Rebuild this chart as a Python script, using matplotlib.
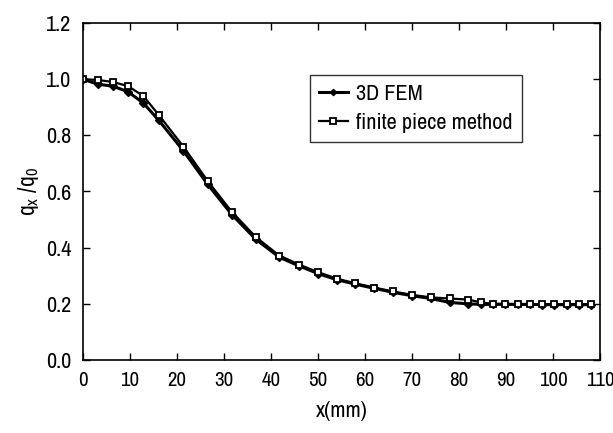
import matplotlib
matplotlib.use("Agg")
import matplotlib.pyplot as plt
from matplotlib import font_manager

# x positions (mm)
x_pos = [0, 3.25, 6.45, 9.65, 12.9, 16.2, 21.4, 26.6, 31.7, 36.8, 41.8,
         46, 50, 54, 58, 62, 66, 70, 74, 78, 82, 84.7, 87.3, 89.9, 92.5,
         95.1, 97.7, 100.3, 102.9, 105.5, 108]

fem_3d = [1.0, 0.982, 0.975, 0.955, 0.915, 0.853, 0.745, 0.625, 0.518, 0.430, 0.366,
          0.335, 0.308, 0.286, 0.270, 0.255, 0.241, 0.229, 0.219, 0.205, 0.200,
          0.198, 0.198, 0.198, 0.198, 0.198, 0.197, 0.197, 0.197, 0.197, 0.197]

finite_piece = [1.0, 0.997, 0.990, 0.975, 0.940, 0.872, 0.760, 0.637, 0.528, 0.438, 0.372,
                0.340, 0.313, 0.290, 0.273, 0.258, 0.244, 0.232, 0.223, 0.219, 0.215,
                0.205, 0.200, 0.200, 0.199, 0.199, 0.199, 0.199, 0.199, 0.199, 0.199]

x_ticks = list(range(0, 111, 10))
y_ticks = [0.0, 0.2, 0.4, 0.6, 0.8, 1.0, 1.2]

# look for a narrow / condensed sans font, the original uses one
fonts = font_manager.fontManager.ttflist
narrow = [f for f in fonts if "Narrow" in f.name and "Bold" not in f.fname]
condensed = [f for f in fonts if "Condensed" in f.fname and f.name == "DejaVu Sans"
             and f.weight in (400, "normal") and f.style == "normal"]
if narrow:
    family, stretch, fs = narrow[0].name, "normal", 16
elif condensed:
    family, stretch, fs = "DejaVu Sans", "condensed", 14
else:
    family, stretch, fs = "Liberation Sans", "normal", 14

plt.rcParams["font.family"] = [family, "DejaVu Sans"]
plt.rcParams["font.stretch"] = stretch
plt.rcParams["mathtext.fontset"] = "custom"
plt.rcParams["mathtext.rm"] = family
plt.rcParams["mathtext.it"] = family

fig = plt.figure(figsize=(6.13, 4.33), dpi=100)
ax = fig.add_axes([82.7 / 613, 1 - 360 / 433, (600 - 82.7) / 613, (360 - 23) / 433])

ax.plot(x_pos, fem_3d, color="black", lw=2.2, marker="D", ms=4,
        mfc="black", mec="black", label="3D FEM")
ax.plot(x_pos, finite_piece, color="black", lw=1.6, marker="s", ms=5,
        mfc="white", mec="black", mew=1.3, label="finite piece method")

ax.set_xlim(0, 110)
ax.set_ylim(0, 1.2)
ax.set_xticks(x_ticks)
ax.set_yticks(y_ticks)
ax.set_yticklabels([f"{v:.1f}" for v in y_ticks])
ax.tick_params(direction="in", length=5, width=1, top=True, right=True,
               labelsize=fs, pad=8)
ax.tick_params(axis="x", labelsize=fs - 1)
for s in ax.spines.values():
    s.set_linewidth(1.2)

ax.set_xlabel("x(mm)", fontsize=fs, labelpad=8)
ax.set_ylabel(r"q$_{\mathrm{x}}$ /q$_{\mathrm{0}}$", fontsize=fs + 1, labelpad=4)

leg = ax.legend(loc="upper left", bbox_to_anchor=(0.439, 0.846), borderaxespad=0,
                fontsize=fs, frameon=True, fancybox=False, edgecolor="black",
                handlelength=1.3, handletextpad=0.4, borderpad=0.4,
                labelspacing=0.4, markerscale=0.8)
leg.get_frame().set_linewidth(1.0)

fig.savefig("out.png", dpi=100)
